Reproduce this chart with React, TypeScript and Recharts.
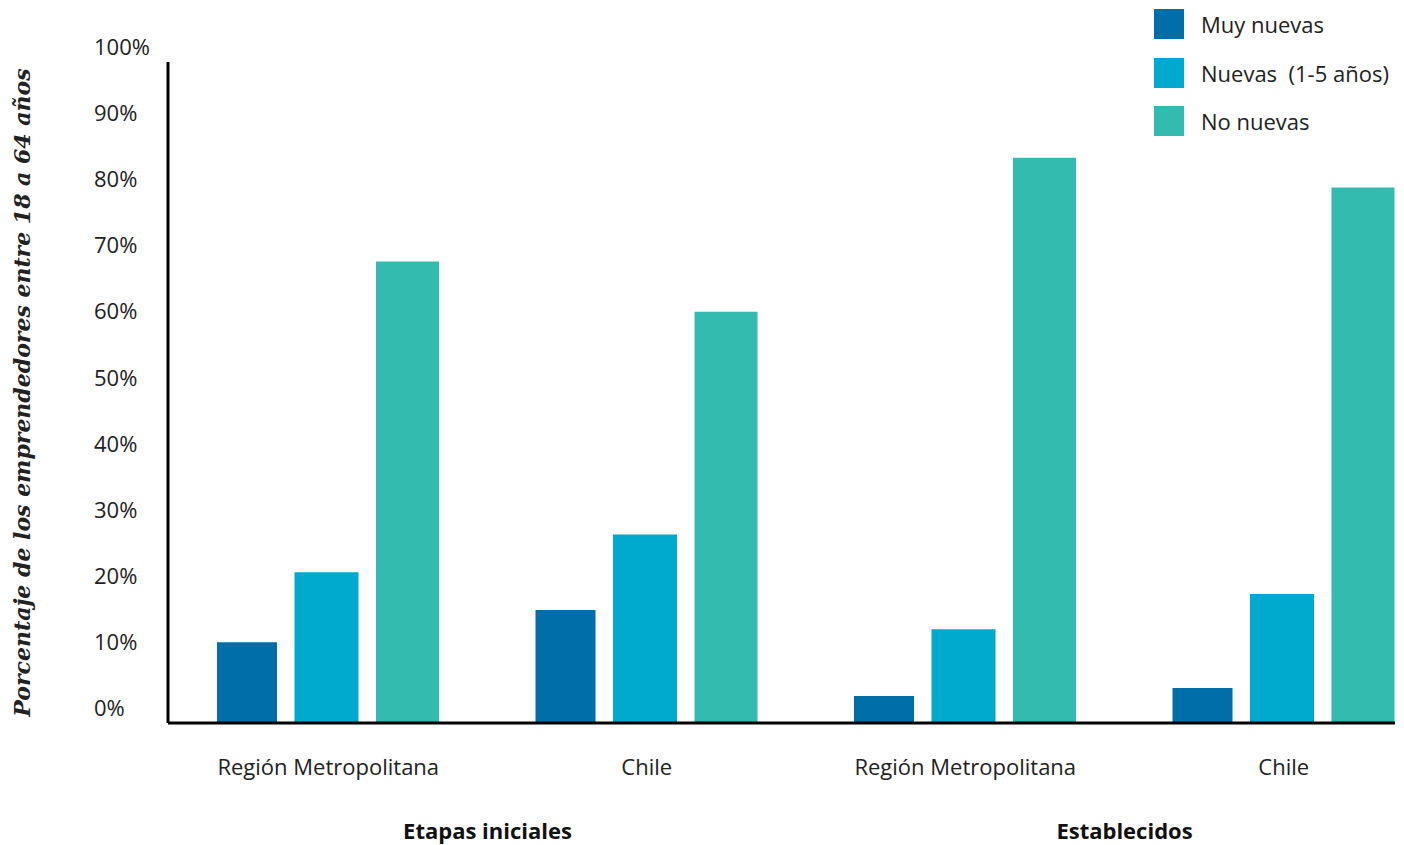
import React from 'react';
import { BarChart, Bar, XAxis, YAxis, Legend, Label } from 'recharts';

// Porcentaje de emprendedores por antigüedad de la empresa
const regions = ['Región Metropolitana', 'Chile', 'Región Metropolitana', 'Chile'];
const stages = ['Etapas iniciales', '', 'Establecidos', ''];
const muyNuevas = [12.2, 17.1, 4.1, 5.3];
const nuevas = [22.8, 28.5, 14.2, 19.5];
const noNuevas = [69.8, 62.2, 85.5, 81.0];
const yTicks = [0, 10, 20, 30, 40, 50, 60, 70, 80, 90, 100];

const series = [
  { key: 'muyNuevas', name: 'Muy nuevas', color: '#006FA9', size: 60 },
  { key: 'nuevas', name: 'Nuevas  (1-5 años)', color: '#00AACE', size: 64 },
  { key: 'noNuevas', name: 'No nuevas', color: '#34BBAF', size: 63 },
];

const data = regions.map((region, i) => ({
  region,
  stage: stages[i],
  muyNuevas: muyNuevas[i],
  nuevas: nuevas[i],
  noNuevas: noNuevas[i],
}));

const FONT = '"Open Sans", sans-serif';
const TEXT = '#222';

const YTick = (props: any) => {
  const { x, y, payload } = props;
  return (
    <text x={x - 74} y={y - 7} textAnchor="start" fontFamily={FONT} fontSize={22} fill={TEXT}>
      {payload.value}%
    </text>
  );
};

const XTick = (props: any) => {
  const { x, y, payload, index } = props;
  const stage = stages[index];
  const half = payload.offset || 159;
  return (
    <g>
      <text x={x} y={y + 52} textAnchor="middle" fontFamily={FONT} fontSize={22} fill={TEXT}>
        {payload.value}
      </text>
      {stage && (
        <text x={x + half} y={y + 116} textAnchor="middle" fontFamily={FONT} fontSize={22} fontWeight={700} fill="#111">
          {stage}
        </text>
      )}
    </g>
  );
};

const LegendBox = () => (
  <div style={{ fontFamily: FONT }}>
    {series.map((s) => (
      <div key={s.key} style={{ display: 'flex', alignItems: 'center', height: 30, marginBottom: 18.5 }}>
        <span style={{ width: 30, height: 30, background: s.color, display: 'inline-block' }} />
        <span style={{ marginLeft: 17, fontSize: 22, color: TEXT, whiteSpace: 'pre' }}>{s.name}</span>
      </div>
    ))}
  </div>
);

const AxisTitle = (props: any) => {
  const { viewBox } = props;
  const cx = viewBox.x - 32;
  const cy = viewBox.y + viewBox.height / 2;
  return (
    <text
      x={cx}
      y={cy}
      transform={`rotate(-90, ${cx}, ${cy})`}
      textAnchor="middle"
      dominantBaseline="central"
      fontFamily='"DejaVu Serif", serif'
      fontStyle="italic"
      fontWeight={700}
      fontSize={22}
      fill={TEXT}
    >
      Porcentaje de los emprendedores entre 18 a 64 años
    </text>
  );
};

export default function App() {
  return (
    <div style={{ position: 'absolute', left: 0, top: 0, width: 1404, height: 845, background: '#fff' }}>
      <BarChart
        width={1404}
        height={845}
        data={data}
        margin={{ top: 62, right: 9, bottom: 22, left: 54 }}
        barGap={17.5}
      >
        <XAxis
          dataKey="region"
          type="category"
          height={100}
          padding={{ left: 1, right: -48 }}
          axisLine={{ stroke: '#000', strokeWidth: 3 }}
          tickLine={false}
          tickSize={0}
          tickMargin={0}
          interval={0}
          tick={<XTick />}
        />
        <YAxis
          type="number"
          domain={[0, 100]}
          ticks={yTicks}
          width={114}
          axisLine={{ stroke: '#000', strokeWidth: 3 }}
          tickLine={false}
          tickSize={0}
          tickMargin={0}
          tick={<YTick />}
        >
          <Label content={<AxisTitle />} />
        </YAxis>
        <Legend
          layout="vertical"
          align="center"
          verticalAlign="middle"
          content={<LegendBox />}
          wrapperStyle={{ top: 9, left: 1154, width: 250, height: 140 }}
        />
        {series.map((s) => (
          <Bar
            key={s.key}
            dataKey={s.key}
            name={s.name}
            fill={s.color}
            barSize={s.size}
            isAnimationActive={false}
          />
        ))}
      </BarChart>
    </div>
  );
}
